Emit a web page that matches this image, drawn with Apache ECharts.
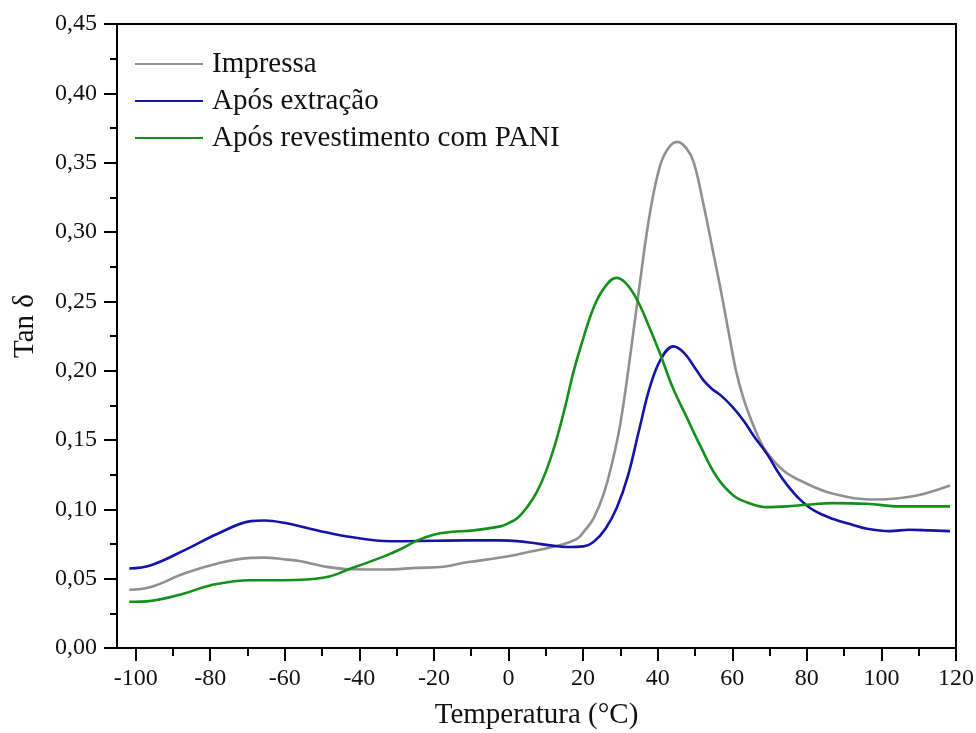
<!DOCTYPE html>
<html>
<head>
<meta charset="utf-8">
<script src="https://cdn.jsdelivr.net/npm/echarts@6/dist/echarts.min.js"></script>
<style>html,body{margin:0;padding:0;background:#fff}#c{width:976px;height:733px}</style>
</head>
<body>
<div id="c"></div>
<script>
const seriesNames = ['Impressa', 'Após extração', 'Após revestimento com PANI'];
const xTickLabels = [-100, -80, -60, -40, -20, 0, 20, 40, 60, 80, 100, 120];
const xMinorTicks = [-90, -70, -50, -30, -10, 10, 30, 50, 70, 90, 110];

const impressaT = [-101.7, -95.9, -87.0, -78.0, -69.1, -65.5, -60.2, -55.7, -49.4, -42.3, -33.4, -24.4, -17.4, -11.1, -2.2, 6.7, 13.9, 18.4, 20.5, 22.8, 25.5, 28.0, 30.0, 32.5, 35.3, 38.0, 40.7, 43.0, 45.3, 47.5, 49.6, 52.3, 55.0, 57.0, 59.0, 61.0, 63.0, 65.0, 67.0, 69.3, 73.7, 78.2, 87.1, 98.7, 109.5, 118.4];
const impressaV = [0.042, 0.044, 0.0537, 0.061, 0.065, 0.0652, 0.064, 0.0625, 0.0588, 0.0568, 0.0566, 0.0578, 0.0586, 0.0618, 0.0652, 0.0700, 0.0742, 0.0788, 0.0850, 0.0935, 0.1110, 0.1360, 0.1620, 0.2080, 0.2650, 0.3150, 0.3484, 0.3610, 0.3650, 0.3610, 0.3508, 0.3197, 0.2838, 0.2570, 0.2280, 0.2000, 0.1800, 0.1650, 0.1520, 0.1410, 0.1280, 0.1208, 0.1112, 0.1071, 0.1100, 0.1172];

const extracaoT = [-101.7, -95.9, -87.0, -78.0, -69.1, -65.5, -60.2, -51.2, -42.3, -31.6, -20.1, -11.1, -2.2, 2.3, 6.7, 11.2, 15.7, 20.1, 23.0, 26.0, 29.0, 32.0, 35.0, 38.0, 41.0, 44.2, 47.0, 50.0, 52.3, 54.5, 57.0, 60.0, 63.0, 66.0, 69.3, 72.0, 74.6, 78.2, 82.0, 87.1, 92.0, 96.1, 102.3, 107.5, 113.0, 118.4];
const extracaoV = [0.0573, 0.0597, 0.0704, 0.0824, 0.0915, 0.0920, 0.0903, 0.0848, 0.0800, 0.0770, 0.0773, 0.0776, 0.0776, 0.0771, 0.0757, 0.0740, 0.0728, 0.0733, 0.0770, 0.0860, 0.1010, 0.1240, 0.1570, 0.1890, 0.2090, 0.2175, 0.2130, 0.2020, 0.1930, 0.1870, 0.1820, 0.1740, 0.1640, 0.1520, 0.1400, 0.1280, 0.1180, 0.1070, 0.0990, 0.0930, 0.0890, 0.0860, 0.0843, 0.0853, 0.0848, 0.0843];

const paniT = [-101.7, -95.9, -87.0, -79.8, -69.1, -60.2, -49.4, -42.3, -33.4, -29.0, -24.4, -20.1, -15.6, -9.4, -2.2, 0.0, 2.5, 5.0, 7.5, 10.0, 12.5, 15.0, 17.5, 20.0, 22.8, 25.5, 28.9, 31.5, 34.4, 37.5, 40.7, 44.0, 47.8, 51.4, 55.9, 60.3, 64.0, 69.3, 74.6, 80.0, 87.1, 96.1, 105.0, 118.4];
const paniV = [0.0333, 0.0340, 0.0393, 0.0453, 0.0489, 0.0489, 0.0508, 0.0573, 0.0661, 0.0712, 0.0776, 0.0817, 0.0836, 0.0848, 0.0877, 0.0900, 0.0940, 0.1016, 0.1120, 0.1270, 0.1470, 0.1720, 0.2000, 0.2230, 0.2454, 0.2590, 0.2669, 0.2630, 0.2515, 0.2330, 0.2119, 0.1880, 0.1663, 0.1459, 0.1231, 0.1100, 0.1050, 0.1016, 0.1021, 0.1033, 0.1045, 0.1040, 0.1021, 0.1021];

const colors = ['#909090', '#1414a8', '#13901b'];
const FONT = 'Liberation Serif';

function pairs(t, v) { return t.map((x, i) => [x, v[i]]); }

const chart = echarts.init(document.getElementById('c'), null, { renderer: 'canvas' });
const mkSeries = (name, t, v, color, z) => ({
  name, type: 'line', data: pairs(t, v), xAxisIndex: 0, yAxisIndex: 0,
  smooth: 0.4, symbol: 'none', z,
  lineStyle: { color, width: 2.6 }, itemStyle: { color }
});

chart.setOption({
  animation: false,
  backgroundColor: '#fff',
  textStyle: { fontFamily: FONT },
  grid: { left: 117, right: 20, top: 24, bottom: 85, outerBoundsMode: 'none', containLabel: false,
          show: true, borderColor: '#000', borderWidth: 2, backgroundColor: 'transparent' },
  legend: {
    orient: 'vertical', left: 135, top: 49, padding: 0, itemGap: 7,
    itemWidth: 68, itemHeight: 14, icon: 'path://M0,6 L68,6 L68,8 L0,8 Z',
    data: seriesNames,
    textStyle: { fontFamily: FONT, fontSize: 29, color: '#111', lineHeight: 30, padding: [0, 0, 0, 4] }
  },
  xAxis: [{
    type: 'value', min: -105, max: 120, position: 'bottom',
    name: 'Temperatura (°C)', nameLocation: 'middle', nameGap: 53,
    nameTextStyle: { fontFamily: FONT, fontSize: 29, color: '#111' },
    axisLine: { show: true, onZero: false, lineStyle: { color: '#000', width: 2 } },
    axisTick: { show: true, length: 13, lineStyle: { color: '#000', width: 2 }, customValues: xTickLabels },
    axisLabel: { fontFamily: FONT, fontSize: 24, color: '#111', margin: 19, customValues: xTickLabels },
    splitLine: { show: false }
  }, {
    type: 'value', min: -105, max: 120, position: 'bottom',
    axisLine: { show: false, onZero: false },
    axisTick: { show: true, length: 8, lineStyle: { color: '#000', width: 2 }, customValues: xMinorTicks },
    axisLabel: { show: false },
    splitLine: { show: false }
  }],
  yAxis: {
    type: 'value', min: 0, max: 0.45, interval: 0.05,
    name: 'Tan δ', nameLocation: 'middle', nameGap: 77,
    nameTextStyle: { fontFamily: FONT, fontSize: 29, color: '#111', padding: [0, 0, 0, 20] },
    axisLine: { show: true, onZero: false, lineStyle: { color: '#000', width: 2 } },
    axisTick: { show: true, length: 13, lineStyle: { color: '#000', width: 2 } },
    minorTick: { show: true, splitNumber: 2, length: 7, lineStyle: { color: '#000', width: 2 } },
    axisLabel: { fontFamily: FONT, fontSize: 24, color: '#111', margin: 20, formatter: v => v.toFixed(2).replace('.', ',') },
    splitLine: { show: false }
  },
  series: [
    mkSeries(seriesNames[0], impressaT, impressaV, colors[0], 3),
    mkSeries(seriesNames[1], extracaoT, extracaoV, colors[1], 4),
    mkSeries(seriesNames[2], paniT, paniV, colors[2], 5)
  ]
});
</script>
</body>
</html>
